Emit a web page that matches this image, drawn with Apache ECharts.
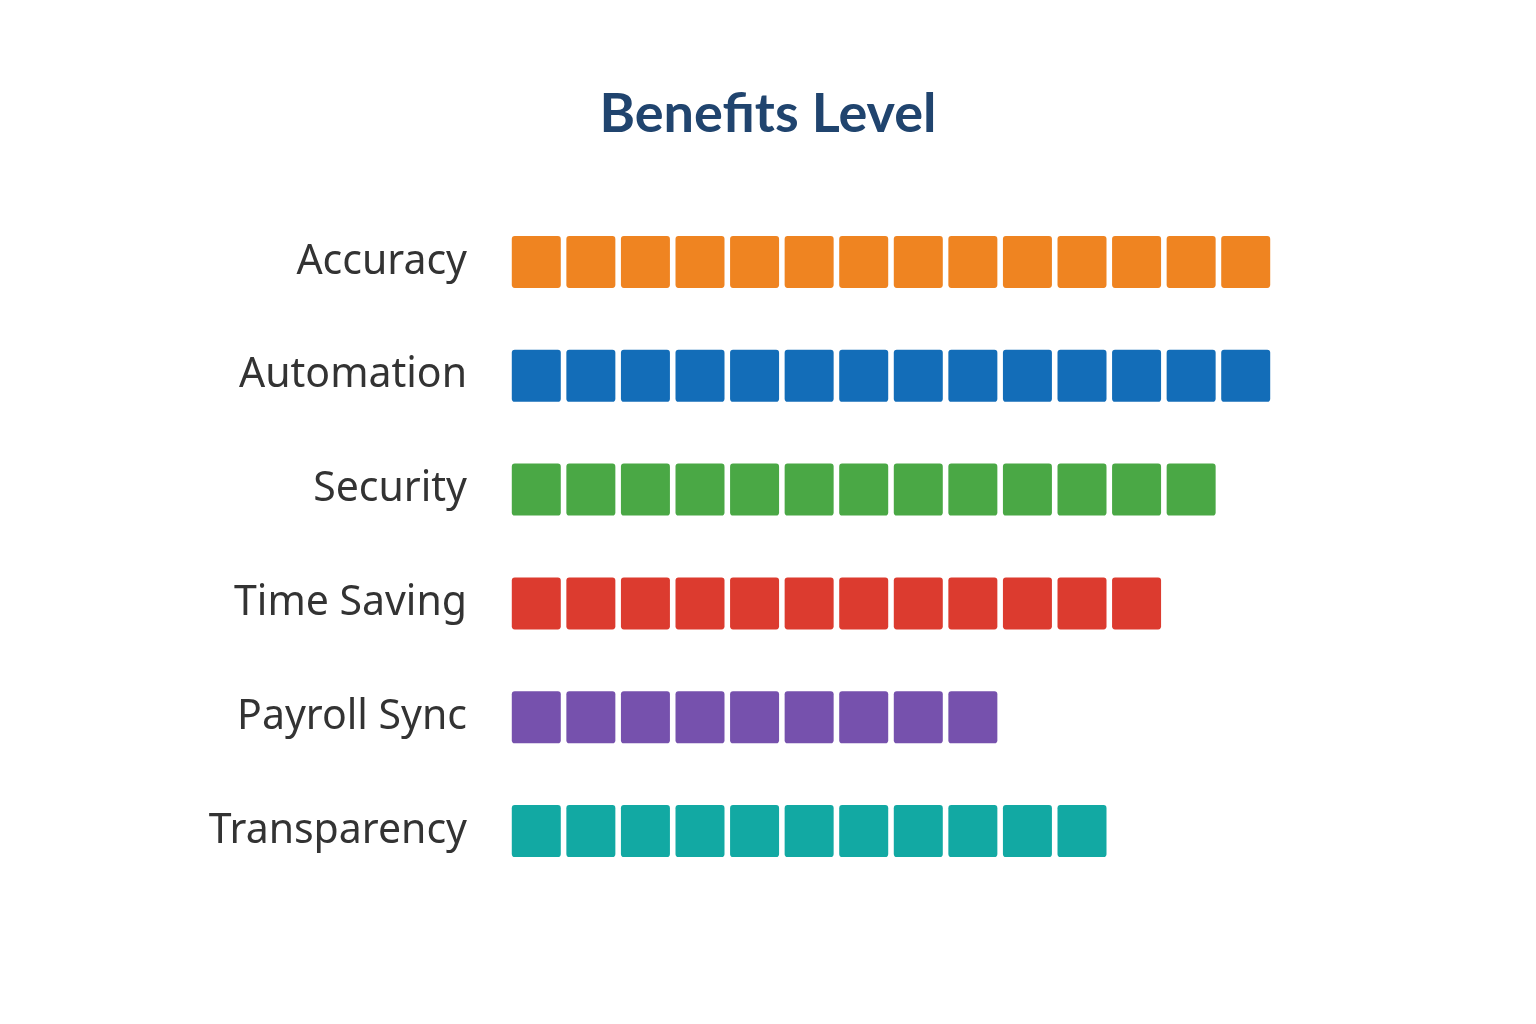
<!DOCTYPE html>
<html>
<head>
<meta charset="utf-8">
<title>Benefits Level</title>
<script src="https://cdn.jsdelivr.net/npm/echarts@6/dist/echarts.min.js"></script>
<style>
  html, body { margin: 0; padding: 0; background: #ffffff; }
  #chart { width: 1536px; height: 1024px; }
</style>
</head>
<body>
<div id="chart"></div>
<script>
// benefit categories, top to bottom
const categories = ['Accuracy', 'Automation', 'Security', 'Time Saving', 'Payroll Sync', 'Transparency'];
// number of filled blocks per benefit
const levels = [14, 14, 13, 12, 9, 11];
const colors = ['#ef8421', '#136db8', '#4aa845', '#dc3b2f', '#7651ad', '#12a9a3'];

const maxLevel = 14;
// square with slightly rounded corners
const block = 'path://M3,0 H47 Q50,0 50,3 V47 Q50,50 47,50 H3 Q0,50 0,47 V3 Q0,0 3,0 Z';

let chart = echarts.init(document.getElementById('chart'));

let option = {
  backgroundColor: '#ffffff',
  title: {
    text: 'Benefits Level',
    left: 'center',
    top: 83,
    textStyle: {
      fontFamily: 'Lato, sans-serif',
      fontWeight: 'bold',
      fontSize: 54,
      color: '#20446e'
    }
  },
  grid: {
    left: 509,
    top: 205,
    width: 764,
    height: 683
  },
  xAxis: {
    type: 'value',
    min: 0,
    max: maxLevel,
    show: false
  },
  yAxis: {
    type: 'category',
    inverse: true,
    data: categories,
    axisLine: { show: false },
    axisTick: { show: false },
    splitLine: { show: false },
    axisLabel: {
      margin: 42,
      fontFamily: '"Noto Sans", "Open Sans", sans-serif',
      fontSize: 41,
      color: '#333333'
    }
  },
  series: [{
    type: 'pictorialBar',
    symbol: block,
    symbolSize: [49, 52],
    symbolMargin: '2.8!',
    symbolPosition: 'start',
    silent: true,
    data: levels.map(function (v, i) {
      return {
        value: v,
        symbolRepeat: v,
        symbolBoundingData: v,
        itemStyle: { color: colors[i] }
      };
    })
  }]
};

chart.setOption(option);
</script>
</body>
</html>
